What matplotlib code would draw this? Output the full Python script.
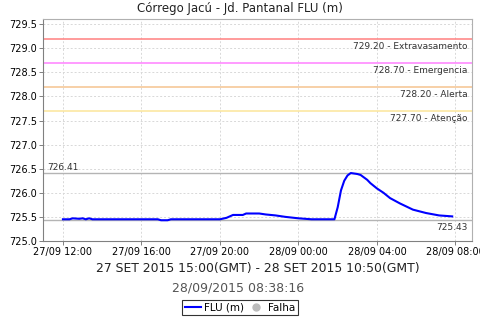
import pandas as pd
import matplotlib
matplotlib.use('Agg')
import matplotlib.pyplot as plt
import matplotlib.dates as mdates
from matplotlib.lines import Line2D

TITLE = 'Córrego Jacú - Jd. Pantanal FLU (m)'
PERIOD = '27 SET 2015 15:00(GMT) - 28 SET 2015 10:50(GMT)'
STAMP = '28/09/2015 08:38:16'

# readings (local time)
times = [
    '2015-09-27 12:00', '2015-09-27 12:20', '2015-09-27 12:30', '2015-09-27 12:50',
    '2015-09-27 13:00', '2015-09-27 13:10', '2015-09-27 13:20', '2015-09-27 13:30',
    '2015-09-27 13:40', '2015-09-27 16:50', '2015-09-27 17:00', '2015-09-27 17:20',
    '2015-09-27 17:30', '2015-09-27 20:00', '2015-09-27 20:20', '2015-09-27 20:40',
    '2015-09-27 21:10', '2015-09-27 21:20', '2015-09-27 22:00', '2015-09-27 22:20',
    '2015-09-27 22:50', '2015-09-27 23:20', '2015-09-28 00:00', '2015-09-28 00:40',
    '2015-09-28 01:50', '2015-09-28 02:00', '2015-09-28 02:10', '2015-09-28 02:20',
    '2015-09-28 02:30', '2015-09-28 02:40', '2015-09-28 02:50', '2015-09-28 03:00',
    '2015-09-28 03:10', '2015-09-28 03:20', '2015-09-28 03:30', '2015-09-28 03:40',
    '2015-09-28 04:00', '2015-09-28 04:20', '2015-09-28 04:40', '2015-09-28 05:10',
    '2015-09-28 05:50', '2015-09-28 06:30', '2015-09-28 07:10', '2015-09-28 07:50',
]
flu = [
    725.45, 725.45, 725.47, 725.46,
    725.47, 725.45, 725.47, 725.45,
    725.45, 725.45, 725.43, 725.43,
    725.45, 725.45, 725.48, 725.54,
    725.54, 725.57, 725.57, 725.55,
    725.53, 725.50, 725.47, 725.45,
    725.45, 725.70, 726.05, 726.25,
    726.36, 726.41, 726.40, 726.39,
    726.37, 726.32, 726.27, 726.20,
    726.09, 726.00, 725.89, 725.78,
    725.65, 725.58, 725.53, 725.51,
]

limit_values = [729.20, 728.70, 728.20, 727.70]
limit_names = ['Extravasamento', 'Emergencia', 'Alerta', 'Atenção']
limit_colors = ['#ff8080', '#ff80ff', '#f5c48f', '#fce59a']

flu_max = 726.41
flu_min = 725.43

df = pd.DataFrame({'t': pd.to_datetime(times), 'flu': flu})

fig = plt.figure(figsize=(4.8, 3.2), dpi=100)
ax = fig.add_axes([0.0906, 0.247, 0.892, 0.694])

for v, n, c in zip(limit_values, limit_names, limit_colors):
    ax.axhline(v, color=c, lw=1.1, zorder=2)
    ax.text(0.99, v - 0.06, '{:.2f} - {}'.format(v, n), transform=ax.get_yaxis_transform(),
            ha='right', va='top', fontsize=6.5, color='#333333')

ax.axhline(flu_max, color='#b4b4b4', lw=1.0, zorder=2)
ax.axhline(flu_min, color='#b4b4b4', lw=1.0, zorder=2)
ax.text(0.008, flu_max + 0.03, '{:.2f}'.format(flu_max), transform=ax.get_yaxis_transform(),
        ha='left', va='bottom', fontsize=6.5, color='#333333')
ax.text(0.99, flu_min - 0.06, '{:.2f}'.format(flu_min), transform=ax.get_yaxis_transform(),
        ha='right', va='top', fontsize=6.5, color='#333333')

ax.plot(df['t'], df['flu'], color='#0000ff', lw=1.5, zorder=3)

t0 = pd.Timestamp('2015-09-27 12:00')
t1 = pd.Timestamp('2015-09-28 07:50')
pad = (t1 - t0) * 0.05
ax.set_xlim(t0 - pad, t1 + pad)
ax.set_ylim(725.0, 729.61)
ax.set_yticks([725.0 + 0.5 * i for i in range(10)])
ax.yaxis.set_major_formatter(matplotlib.ticker.FormatStrFormatter('%.1f'))
ax.xaxis.set_major_locator(mdates.HourLocator(byhour=[0, 4, 8, 12, 16, 20]))
ax.xaxis.set_major_formatter(mdates.DateFormatter('%d/%m %H:%M'))

ax.grid(True, color='#d8d8d8', ls=(0, (2, 2)), lw=0.7, zorder=0)
ax.tick_params(labelsize=7, length=3, width=0.7, color='#808080', pad=1.5)
for s in ['left', 'bottom']:
    ax.spines[s].set_color('#808080')
for s in ['top', 'right']:
    ax.spines[s].set_color('#b0b0b0')

fig.text(0.5, 0.972, TITLE, ha='center', va='center', fontsize=8.5, color='#222222')
# period label is centred on the plot area
ax_mid = 0.0906 + 0.892 / 2
fig.text(ax_mid, 0.162, PERIOD, ha='center', va='center', fontsize=8.9, color='#222222')
fig.text(0.497, 0.1, STAMP, ha='center', va='center', fontsize=9, color='#555555')

handles = [
    Line2D([], [], color='#0000ff', lw=1.5),
    Line2D([], [], color='#bbbbbb', marker='o', ls='none', markersize=5),
]
leg = fig.legend(handles, ['FLU (m)', 'Falha'], loc='center', bbox_to_anchor=(0.5, 0.038),
                 ncol=2, fontsize=7.5, frameon=True, fancybox=False, handlelength=1.5,
                 handletextpad=0.35, columnspacing=0.4, borderpad=0.25, borderaxespad=0)
leg.get_frame().set_edgecolor('black')
leg.get_frame().set_linewidth(0.8)

fig.savefig('out.png', dpi=100)
